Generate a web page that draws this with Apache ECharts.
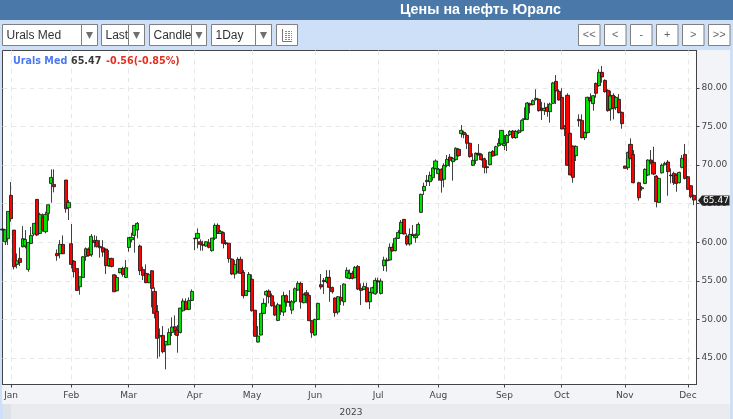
<!DOCTYPE html>
<html>
<head>
    <meta charset="UTF-8">
    <title>Цены на нефть Юралс</title>
    <script src="https://cdn.jsdelivr.net/npm/echarts@6/dist/echarts.min.js"></script>
    <style>
        *{margin:0;padding:0}
        html,body{width:100%;height:100%;overflow:hidden}
        #main{width:733px;height:419px}
    </style>
</head>
<body>
    <div id="main"></div>

    <script type="text/javascript">
        var titleText = 'Цены на нефть Юралс';
        var symbolName = 'Urals Med';
        var lastPrice = 65.47;
        var changeText = '-0.56(-0.85%)';
        var yearLabel = '2023';

        // open, close, low, high - one row per trading day
        var ohlc = [
            [61.7,61.6,61.5,61.8],[60.07,61.62,59.64,61.62],[60.46,64.0,59.64,64.0],[66.08,63.05,62.66,67.81],
            [61.58,56.83,56.48,61.58],[57.13,57.6,56.61,58.55],[57.91,57.39,56.91,59.33],[59.42,60.46,59.33,62.1],
            [59.51,60.37,59.2,61.58],[56.48,59.98,56.18,59.98],[59.85,60.89,59.77,62.0],[61.06,62.45,60.8,62.45],
            [65.56,60.93,60.8,65.56],[61.15,63.61,61.06,63.83],[63.22,61.58,61.37,63.74],[61.37,63.61,61.15,63.96],
            [63.74,64.87,62.79,64.87],[67.63,68.41,65.13,69.45],[67.5,67.2,66.47,69.45],[58.55,58.25,57.6,59.07],
            [58.51,59.72,57.91,60.28],[59.72,58.51,58.47,60.89],[68.07,64.35,63.83,68.07],[64.48,65.17,62.88,65.47],
            [59.81,57.13,56.61,62.36],[57.56,56.18,55.44,57.69],[56.61,53.76,53.72,56.61],[54.23,55.53,53.2,55.53],
            [55.44,58.12,55.4,58.2],[58.17,59.16,57.6,59.33],[59.07,58.3,58.12,59.33],[58.38,60.76,58.12,61.06],
            [60.24,59.98,59.33,60.93],[60.24,59.42,59.33,60.8],[59.46,59.29,58.0,60.28],[59.29,58.73,58.12,60.28],
            [59.12,56.96,55.88,59.2],[56.96,57.86,56.83,58.99],[57.91,56.87,56.74,57.99],[55.79,53.58,53.54,55.88],
            [53.71,55.44,53.63,55.74],[56.05,56.61,55.97,56.61],[56.61,55.83,55.53,56.83],[55.44,56.7,55.36,57.69],
            [59.33,60.63,58.77,60.63],[60.33,60.63,59.99,61.24],[60.89,62.19,58.65,62.19],[61.59,62.45,60.51,62.62],
            [59.51,56.31,55.75,59.7],[56.48,55.71,55.1,56.83],[55.97,54.76,54.7,57.13],[54.76,55.79,54.7,56.0],
            [56.31,54.02,51.56,56.4],[53.63,50.78,50.13,54.15],[51.04,47.54,44.94,51.86],[47.75,47.92,45.16,48.83],
            [47.92,45.81,45.6,49.13],[46.67,47.15,43.52,47.15],[46.71,48.31,46.67,48.83],[48.31,49.01,47.84,50.26],
            [49.05,48.53,47.97,50.52],[48.62,47.92,45.68,49.27],[48.31,51.47,48.18,51.5],[51.12,52.38,51.0,52.72],
            [52.29,51.3,51.2,52.72],[51.3,52.46,51.2,52.85],[52.46,53.63,52.38,53.89],[60.5,60.45,58.99,60.6],
            [60.51,61.15,59.21,61.8],[60.07,59.73,58.91,60.38],[59.73,59.6,58.91,60.2],[59.51,60.07,59.43,60.16],
            [59.94,59.34,59.21,60.42],[58.91,60.55,58.78,60.55],[60.51,62.19,60.29,62.45],[62.19,61.15,61.07,62.45],
            [61.15,61.41,61.07,61.59],[61.24,59.86,59.21,61.37],[59.94,59.8,59.64,60.29],[59.86,57.87,57.35,59.86],
            [57.82,55.88,55.75,57.91],[55.88,57.13,55.3,57.7],[56.18,57.78,55.97,58.04],[57.78,55.97,55.88,58.13],
            [56.1,53.07,52.72,56.4],[53.11,53.72,53.03,53.8],[53.63,55.84,53.55,56.14],[55.2,51.12,51.0,55.84],
            [51.2,47.8,47.8,51.2],[47.06,47.84,47.0,49.14],[47.97,50.78,47.93,50.78],[50.78,52.08,50.7,52.72],
            [53.16,53.63,51.64,53.8],[53.68,52.94,52.08,53.89],[53.07,51.77,51.64,53.37],[51.73,50.56,50.43,52.29],
            [49.87,51.9,49.78,52.16],[51.77,51.12,50.56,51.94],[50.95,53.07,50.43,53.59],[53.07,52.25,51.64,53.24],
            [52.33,52.2,51.64,53.8],[51.21,52.29,50.69,52.5],[52.33,53.98,52.08,54.15],[53.8,54.67,53.72,54.97],
            [54.67,52.25,51.38,54.89],[52.16,53.2,52.08,53.37],[53.46,53.16,52.08,53.8],[53.11,49.83,49.78,53.2],
            [49.83,48.27,47.62,49.91],[47.97,50.0,47.88,50.09],[50.0,52.08,49.91,52.16],[54.5,54.2,53.89,55.88],
            [55.06,54.89,53.29,55.36],[54.89,55.45,54.67,56.4],[55.45,54.15,52.29,56.4],[54.15,53.59,53.37,54.24],
            [52.77,50.87,50.35,52.85],[50.95,52.94,50.65,53.03],[52.85,52.42,51.86,54.45],[52.29,54.58,51.77,54.67],
            [55.4,56.36,55.32,56.74],[55.32,55.97,55.19,56.48],[55.97,55.32,55.19,56.3],[55.4,56.74,55.32,56.92],
            [56.87,53.93,53.8,57.05],[54.02,53.76,51.86,54.67],[53.89,54.28,53.8,54.76],[54.11,52.29,52.2,54.76],
            [52.29,53.5,51.34,53.59],[53.46,54.11,53.37,54.24],[53.3,55.06,53.2,55.4],[55.0,54.85,53.4,55.4],
            [53.37,54.96,53.23,55.3],[56.96,57.7,56.27,58.13],[57.7,57.6,56.2,58.0],[57.7,59.34,57.61,59.86],
            [59.34,58.91,58.78,59.86],[58.91,60.5,58.82,60.63],[60.5,61.28,60.42,61.59],[61.15,62.58,61.07,62.88],
            [62.97,61.07,61.0,63.0],[60.81,59.77,59.55,61.15],[59.77,61.02,59.55,61.8],[61.02,60.89,60.8,62.23],
            [60.59,60.85,59.94,61.15],[60.94,62.32,60.85,62.58],[63.88,66.21,63.8,66.3],[66.69,67.25,66.13,67.73],
            [67.86,68.03,67.29,68.72],[67.86,68.68,67.29,69.15],[68.37,69.63,67.99,69.71],[69.54,70.54,69.46,70.75],
            [68.89,69.46,67.99,69.63],[69.46,68.03,66.43,69.58],[68.16,69.97,67.12,70.23],[69.93,70.75,69.71,71.31],
            [71.05,70.62,69.8,71.44],[70.45,70.88,67.99,71.05],[70.71,72.18,70.58,72.31],[72.05,71.23,71.1,72.18],
            [74.08,74.51,73.56,75.2],[74.25,73.95,73.48,74.47],[73.86,72.83,72.09,74.12],[72.83,71.1,70.97,72.91],
            [69.97,70.62,69.89,71.53],[70.62,71.53,70.15,71.66],[71.53,71.36,71.23,72.74],[71.36,70.71,70.58,71.53],
            [70.84,69.71,68.94,70.97],[69.8,69.67,68.94,70.67],[70.06,71.66,69.97,71.75],[71.79,71.18,71.1,71.96],
            [71.31,72.39,71.23,72.52],[72.52,72.83,72.39,73.48],[72.74,74.51,72.65,74.55],[72.52,72.82,71.96,73.9],
            [72.91,73.86,71.83,74.03],[73.95,74.38,73.77,74.55],[74.42,73.56,73.43,74.55],[73.56,74.38,73.43,74.55],
            [74.21,74.46,74.03,74.64],[74.46,75.8,74.34,75.93],[75.93,76.02,75.85,77.49],[75.93,78.05,75.85,78.18],
            [77.97,77.79,76.71,78.1],[77.84,78.36,77.75,78.53],[78.49,78.66,78.36,79.83],[78.53,77.06,76.93,78.62],
            [77.36,77.15,75.85,78.2],[77.06,77.36,76.5,78.1],[77.49,76.97,76.28,78.01],[76.93,77.92,75.5,78.1],
            [78.01,80.65,77.92,80.78],[80.86,79.61,77.92,81.68],[79.57,78.44,78.36,79.83],[78.79,74.68,74.64,79.96],
            [74.72,75.03,73.77,75.2],[79.05,69.97,69.93,79.31],[74.12,68.72,68.67,74.2],[72.48,68.41,67.72,72.56],
            [71.22,72.43,70.53,72.56],[75.93,75.76,74.98,76.58],[75.8,73.56,73.47,76.58],[73.56,74.21,73.25,74.34],
            [74.21,78.79,74.12,78.87],[78.7,78.36,78.23,79.31],[77.97,79.0,77.06,79.09],[80.6,79.31,78.74,80.69],
            [80.3,82.03,80.17,82.42],[82.03,81.43,80.69,82.85],[80.99,79.52,79.39,81.12],[79.7,77.06,76.93,79.83],
            [77.27,78.96,75.76,79.65],[79.05,77.36,75.93,79.31],[77.45,78.79,77.15,78.96],[78.53,76.8,76.71,79.22],
            [76.84,75.37,74.72,76.93],[69.88,69.58,69.55,69.9],[69.66,71.65,69.36,71.74],[72.69,70.88,70.75,73.47],
            [71.39,67.72,67.63,71.96],['-','-','-','-'],[67.72,65.77,65.39,67.85],[66.94,67.07,66.68,67.29],
            [67.63,69.45,67.55,69.58],[68.71,70.66,68.58,70.75],[70.66,70.36,70.1,71.96],[70.36,68.84,68.71,72.39],
            [68.58,65.26,64.52,68.71],[65.17,68.28,65.08,68.37],[69.0,70.0,68.9,70.2],[70.05,70.23,69.97,70.44],
            [70.4,69.15,66.03,70.66],[68.71,68.63,67.63,69.58],[68.93,67.72,67.42,69.15],[68.71,67.63,66.55,68.93],
            [67.72,69.06,67.63,69.15],[69.71,70.88,69.58,71.31],[71.39,68.28,68.15,72.73],[68.5,66.86,66.77,68.58],
            [67.33,65.9,65.69,67.42],[66.08,65.47,64.82,66.16]
        ];

        var monthLabels = ['Jan','Feb','Mar','Apr','May','Jun','Jul','Aug','Sep','Oct','Nov','Dec'];
        var monthIndex = [3,24,44,67,87,109,131,152,175,195,217,239];
        var priceTicks = [45,50,55,60,65,70,75,80];
        var priceMin = 41.56, priceMax = 84.86;
        var slotCount = 243;

        var categories = [];
        for (var i = 0; i < slotCount; i++) {
            categories.push(monthIndex.indexOf(i) >= 0 ? monthLabels[monthIndex.indexOf(i)] : '');
        }
        function isMonth(index) {
            return monthIndex.indexOf(index) >= 0;
        }

        // toolbar widgets: left, right, divider, label
        var selects = [
            {l:2.5, r:97.5, d:81.5, text:'Urals Med'},
            {l:101.5, r:144.5, d:128.5, text:'Last'},
            {l:149.5, r:206.5, d:191.5, text:'Candle'},
            {l:211.5, r:271.5, d:255.5, text:'1Day'}
        ];
        var buttons = [
            {l:578.5, text:'<<'},{l:604.5, text:'<'},{l:630.5, text:'-'},
            {l:656.5, text:'+'},{l:682.5, text:'>'},{l:708.5, text:'>>'}
        ];

        function box(x, y, w, h, fill, stroke, z) {
            return {type:'rect', z:z || 1, silent:true, shape:{x:x, y:y, width:w, height:h},
                style:{fill:fill, stroke:stroke || null, lineWidth:stroke ? 1 : 0}};
        }
        function label(x, y, text, font, fill, align, z) {
            return {type:'text', z:z || 2, silent:true, x:x, y:y,
                style:{text:text, font:font, fill:fill, textAlign:align || 'left', textVerticalAlign:'middle'}};
        }
        function seg(x1, y1, x2, y2, color) {
            return {type:'line', z:2, silent:true, shape:{x1:x1, y1:y1, x2:x2, y2:y2},
                style:{stroke:color, lineWidth:1}};
        }

        var chrome = [
            box(0, 0, 733, 20, '#4a78a8', null, -1),
            box(0, 20, 733, 399, '#cde0f8', null, -1),
            box(2, 384, 728, 20, '#f2f4f7', null, -1),
            box(697, 50, 33, 334, '#f2f4f7', null, -1),
            box(3, 404, 727, 15, '#e9ebee', null, -1),
            box(3, 404, 8, 15, '#dfe2e6', null, -1),
            label(351, 413, yearLabel, '9px "DejaVu Sans"', '#444', 'center'),
            label(13, 61, symbolName, 'bold 9.6px "DejaVu Sans"', '#4a7af0'),
            label(71, 61, String(lastPrice), 'bold 9.6px "DejaVu Sans"', '#3a3a3a'),
            label(106, 61, changeText, 'bold 9.6px "DejaVu Sans"', '#e03020')
        ];
        selects.forEach(function (s) {
            chrome.push(box(s.l, 24.5, s.r - s.l, 21, '#fff', '#808080'));
            chrome.push(label(s.l + 4, 35.5, s.text, '12px "Liberation Sans"', '#333'));
            chrome.push(box(s.d, 24.5, s.r - s.d, 21, '#fff', '#808080', 3));
            var cx = (s.d + s.r) / 2;
            chrome.push({type:'polygon', z:4, silent:true,
                shape:{points:[[cx - 3.5, 32], [cx + 3.5, 32], [cx, 39]]}, style:{fill:'#6e6e6e'}});
        });
        buttons.forEach(function (b) {
            chrome.push(box(b.l, 24.5, 21.5, 21, '#fff', '#808080'));
            chrome.push(label(b.l + 10.75, 35, b.text, '11px "Liberation Sans"', '#666', 'center'));
        });
        // the little table icon
        chrome.push(box(276.5, 24.5, 21, 21, '#fff', '#808080'));
        chrome.push(seg(282.5, 29, 282.5, 41.5, '#777'), seg(282.5, 41.5, 292, 41.5, '#777'));
        [31, 33, 35, 37, 39].forEach(function (y) {
            chrome.push({type:'line', z:2, silent:true, shape:{x1:285, y1:y + 0.5, x2:292, y2:y + 0.5},
                style:{stroke:'#888', lineWidth:1, lineDash:[2, 1]}});
        });

        var myChart = echarts.init(document.getElementById('main'));
        var option = {
            animation: false,
            backgroundColor: '#cde0f8',
            title: {
                text: titleText,
                left: 395,
                top: -2,
                textStyle: {color:'#fff', fontSize:14.3, fontWeight:'bold', fontFamily:'Liberation Sans'}
            },
            grid: {
                show: true, left: 2.5, right: 36.5, top: 50.5, bottom: 34.5,
                backgroundColor: '#fff', borderColor: '#444', borderWidth: 1,
                containLabel: false
            },
            xAxis: {
                type: 'category',
                data: categories,
                boundaryGap: false,
                axisLine: {lineStyle:{color:'#444', width:1}},
                axisTick: {interval:function (index) { return isMonth(index); }, length:3, lineStyle:{color:'#444'}},
                axisLabel: {
                    interval:function (index) { return isMonth(index); },
                    color:'#444', fontSize:9, fontFamily:'DejaVu Sans', margin:7, hideOverlap:false
                },
                splitLine: {
                    show:true,
                    interval:function (index) { return isMonth(index); },
                    lineStyle:{color:'#e8e8e8', type:[5,4], width:1}
                }
            },
            yAxis: {
                type: 'value',
                position: 'right',
                min: priceMin,
                max: priceMax,
                scale: true,
                axisLine: {show:true, lineStyle:{color:'#444', width:1}},
                axisTick: {show:true, customValues:priceTicks, length:3, lineStyle:{color:'#444'}},
                axisLabel: {
                    customValues:priceTicks,
                    formatter:function (v) { return v.toFixed(2); },
                    color:'#444', fontSize:9, fontFamily:'DejaVu Sans', margin:5,
                    padding:[2,0,0,0]
                },
                splitLine: {show:true, lineStyle:{color:'#e8e8e8', type:[5,4], width:1}}
            },
            series: [{
                type: 'candlestick',
                data: ohlc,
                barWidth: 3.6,
                itemStyle: {
                    color:'#00e000', color0:'#ff0000',
                    borderColor:'#111', borderColor0:'#111', borderWidth:0.8
                }
            }],
            graphic: chrome
        };
        myChart.setOption(option);

        // last price tag sits on the axis at the closing price
        var tagY = myChart.convertToPixel({yAxisIndex:0}, lastPrice);
        chrome.push({type:'polygon', z:100, silent:true,
            shape:{points:[[698, tagY + 0.5], [702, tagY - 4.5], [729.5, tagY - 4.5], [729.5, tagY + 5.5], [702, tagY + 5.5]]},
            style:{fill:'#222'}});
        chrome.push(label(716, tagY + 1, lastPrice.toFixed(2), '9px "DejaVu Sans"', '#fff', 'center', 101));
        myChart.setOption({graphic: chrome});
    </script>
</body>
</html>
